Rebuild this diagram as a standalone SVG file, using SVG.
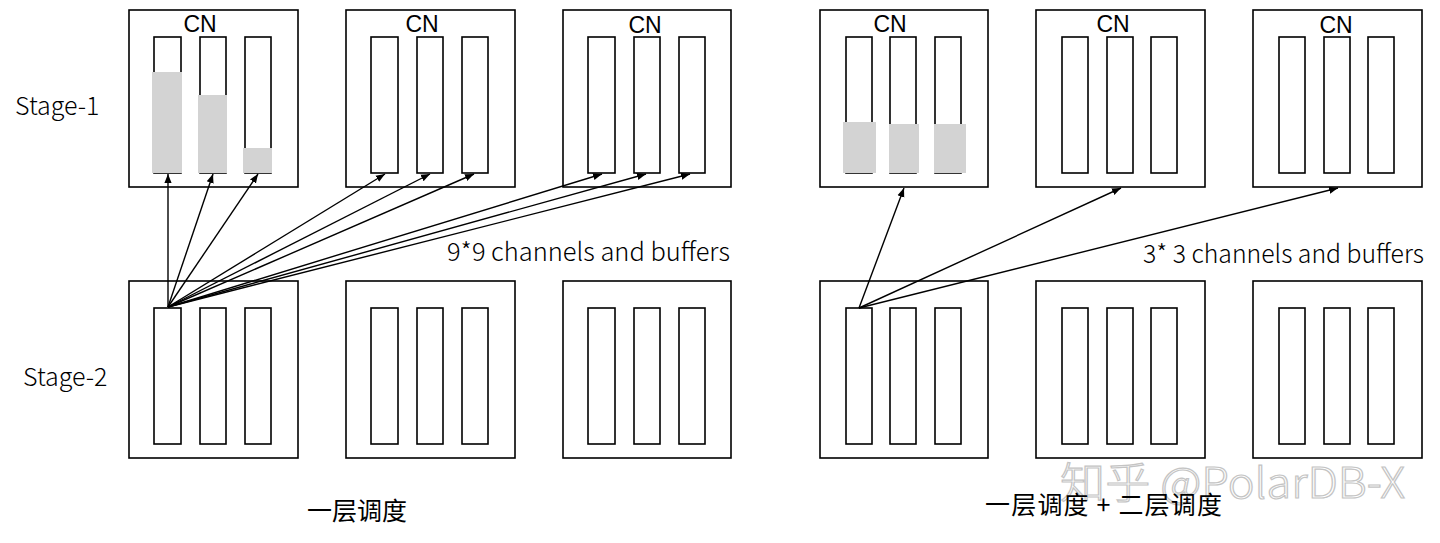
<svg xmlns="http://www.w3.org/2000/svg" width="1440" height="543" viewBox="0 0 1440 543">
<style>
.box{fill:#fff;stroke:#000;stroke-width:1.6}
.bar{fill:none;stroke:#000;stroke-width:1.6}
.fill{fill:#d3d3d3;stroke:none}
.cn{font-family:"Liberation Sans",Arial,sans-serif;font-size:23px;fill:#000;text-anchor:middle}
.lbl{font-family:"Noto Sans CJK SC","Noto Sans",sans-serif;font-size:25px;font-weight:300;fill:#000}
.zh{font-family:"Noto Sans CJK SC","Noto Sans",sans-serif;font-size:25px;font-weight:400;fill:#000}
.arr{stroke:#000;stroke-width:1.4;fill:none;marker-end:url(#ah)}
.wm{font-family:"Noto Sans CJK SC","Noto Sans",sans-serif;font-size:42px;font-weight:300;fill:#fff;stroke:#c4c4c4;stroke-width:1.2}
</style>
<defs>
<marker id="ah" viewBox="0 0 10 10" refX="10" refY="5" markerWidth="9" markerHeight="9" markerUnits="userSpaceOnUse" orient="auto">
<path d="M0,1 L10,5 L0,9 Z" fill="#000"/>
</marker>
<g id="bars3">
<rect class="bar" x="25" y="27" width="27" height="136"/>
<rect class="bar" x="71" y="27" width="26" height="136"/>
<rect class="bar" x="116" y="27" width="26" height="136"/>
</g>
</defs>
<rect width="1440" height="543" fill="#fff"/>

<text class="lbl" x="15" y="115">Stage-1</text>
<text class="lbl" x="23" y="386">Stage-2</text>

<!-- Left: one-level scheduling -->
<g id="L-top-1">
<rect class="box" x="129" y="10" width="169" height="177"/>
<rect class="bar" x="154" y="37" width="27" height="136"/>
<rect class="bar" x="200" y="37" width="26" height="136"/>
<rect class="bar" x="245" y="37" width="26" height="136"/>
<rect class="fill" x="152" y="72" width="30" height="101"/>
<rect class="fill" x="198" y="95" width="29" height="78"/>
<rect class="fill" x="243" y="148" width="29" height="25"/>
<text class="cn" x="200" y="32">CN</text>
</g>
<g id="L-top-2">
<rect class="box" x="346" y="10" width="169" height="177"/>
<use href="#bars3" x="346" y="10"/>
<text class="cn" x="422" y="32">CN</text>
</g>
<g id="L-top-3">
<rect class="box" x="563" y="10" width="168" height="177"/>
<use href="#bars3" x="563" y="10"/>
<text class="cn" x="645" y="33">CN</text>
</g>
<g id="L-bot-1">
<rect class="box" x="129" y="281" width="169" height="177"/>
<use href="#bars3" x="129" y="281"/>
</g>
<g id="L-bot-2">
<rect class="box" x="346" y="281" width="169" height="177"/>
<use href="#bars3" x="346" y="281"/>
</g>
<g id="L-bot-3">
<rect class="box" x="563" y="281" width="168" height="177"/>
<use href="#bars3" x="563" y="281"/>
</g>

<!-- Right: one-level + two-level scheduling -->
<g id="R-top-1">
<rect class="box" x="820" y="10" width="168" height="177"/>
<rect class="bar" x="846" y="37" width="26" height="136"/>
<rect class="bar" x="890" y="37" width="26" height="136"/>
<rect class="bar" x="935" y="37" width="26" height="136"/>
<rect class="fill" x="843" y="122" width="33" height="51"/>
<rect class="fill" x="889" y="124" width="30" height="49"/>
<rect class="fill" x="934" y="124" width="32" height="49"/>
<text class="cn" x="890" y="32">CN</text>
</g>
<g id="R-top-2">
<rect class="box" x="1036" y="10" width="169" height="177"/>
<rect class="bar" x="1062" y="37" width="26" height="136"/>
<rect class="bar" x="1107" y="37" width="26" height="136"/>
<rect class="bar" x="1151" y="37" width="26" height="136"/>
<text class="cn" x="1113" y="32">CN</text>
</g>
<g id="R-top-3">
<rect class="box" x="1253" y="10" width="169" height="177"/>
<rect class="bar" x="1279" y="37" width="26" height="136"/>
<rect class="bar" x="1324" y="37" width="26" height="136"/>
<rect class="bar" x="1368" y="37" width="26" height="136"/>
<text class="cn" x="1336" y="33">CN</text>
</g>
<g id="R-bot-1">
<rect class="box" x="820" y="281" width="168" height="177"/>
<rect class="bar" x="846" y="308" width="26" height="136"/>
<rect class="bar" x="890" y="308" width="26" height="136"/>
<rect class="bar" x="935" y="308" width="26" height="136"/>
</g>
<g id="R-bot-2">
<rect class="box" x="1036" y="281" width="169" height="177"/>
<rect class="bar" x="1062" y="308" width="26" height="136"/>
<rect class="bar" x="1107" y="308" width="26" height="136"/>
<rect class="bar" x="1151" y="308" width="26" height="136"/>
</g>
<g id="R-bot-3">
<rect class="box" x="1253" y="281" width="169" height="177"/>
<rect class="bar" x="1279" y="308" width="26" height="136"/>
<rect class="bar" x="1324" y="308" width="26" height="136"/>
<rect class="bar" x="1368" y="308" width="26" height="136"/>
</g>

<g id="connectors">
<line class="arr" x1="168" y1="307" x2="168" y2="174"/>
<line class="arr" x1="168" y1="307" x2="213" y2="174"/>
<line class="arr" x1="168" y1="307" x2="258" y2="174"/>
<line class="arr" x1="168" y1="307" x2="385" y2="174"/>
<line class="arr" x1="168" y1="307" x2="430" y2="174"/>
<line class="arr" x1="168" y1="307" x2="474" y2="174"/>
<line class="arr" x1="168" y1="307" x2="602" y2="174"/>
<line class="arr" x1="168" y1="307" x2="646" y2="174"/>
<line class="arr" x1="168" y1="307" x2="690" y2="174"/>
<line class="arr" x1="859" y1="308" x2="904" y2="188"/>
<line class="arr" x1="859" y1="308" x2="1121" y2="188"/>
<line class="arr" x1="859" y1="308" x2="1338" y2="188"/>
</g>

<text class="lbl" x="447" y="261" textLength="283" lengthAdjust="spacingAndGlyphs">9*9 channels and buffers</text>
<text class="lbl" x="1143" y="263" textLength="281" lengthAdjust="spacingAndGlyphs">3* 3 channels and buffers</text>
<text class="zh" x="307" y="520">一层调度</text>
<text class="wm" x="1060" y="498" textLength="345" lengthAdjust="spacingAndGlyphs">知乎 @PolarDB-X</text>
<text class="zh" x="985" y="514" textLength="237">一层调度 + 二层调度</text>
</svg>
